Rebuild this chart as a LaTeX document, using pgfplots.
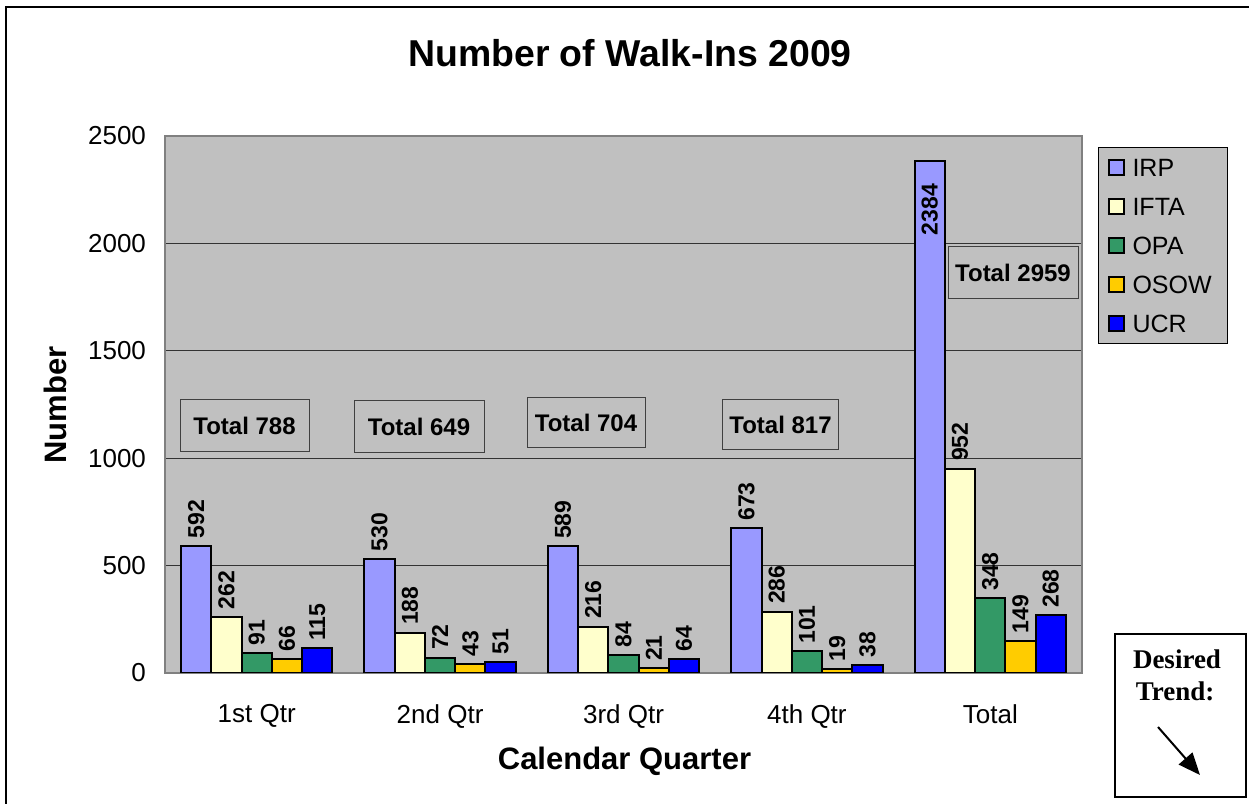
\documentclass[border=0pt]{standalone}
\usepackage{pgfplots}
\pgfplotsset{compat=1.18}
\usepackage{fontspec}
\setmainfont{Liberation Sans}
\newfontfamily\timesfont{Liberation Serif}
\usetikzlibrary{arrows.meta}

\definecolor{plotgray}{HTML}{C0C0C0}
\definecolor{irp}{HTML}{9999FF}
\definecolor{ifta}{HTML}{FFFFCC}
\definecolor{opa}{HTML}{339966}
\definecolor{osow}{HTML}{FFCC00}
\definecolor{ucr}{HTML}{0000FF}

\pgfplotsset{/pgf/number format/1000 sep={}}

\begin{document}
\begin{tikzpicture}[x=0.5pt,y=0.5pt]
\useasboundingbox (0,0) rectangle (1249,804);
\draw[line width=1pt] (6,0) -- (6,797) -- (1249,797);

\begin{axis}[
    at={(82.5pt,65.5pt)}, anchor=south west,
    scale only axis,
    width=458.5pt, height=268.5pt,
    ybar, bar width=0.165,
    xmin=-0.5, xmax=4.5,
    ymin=0, ymax=2500,
    xtick={0,1,2,3,4},
    xticklabels={1st Qtr,2nd Qtr,3rd Qtr,4th Qtr,Total},
    ytick={0,500,1000,1500,2000,2500},
    scaled y ticks=false,
    /pgf/number format/assume math mode=true,
    tick style={draw=none},
    ticklabel style={font=\fontsize{13}{15}\selectfont},
    xticklabel style={yshift=-8pt},
    yticklabel style={xshift=-6pt},
    ymajorgrids,
    major grid style={black!80, line width=0.5pt},
    axis line style={draw=gray, line width=1pt},
    axis background/.style={fill=plotgray},
    nodes near coords,
    every node near coord/.append style={rotate=90, anchor=west,
        font=\bfseries\fontsize{11.5}{13}\selectfont},
    legend style={at={(1.0175,0.9795)}, anchor=north west,
        fill=plotgray, draw=black, line width=0.5pt,
        inner xsep=4.5pt, inner ysep=5.5pt, row sep=10.5pt,
        font=\fontsize{12.5}{14}\selectfont,
        nodes={inner sep=0pt, text height=9pt, text depth=0pt},
        /tikz/every odd column/.append style={column sep=4pt}},
    legend cell align={left},
    legend image code/.code={\draw[#1, line width=1pt] (0pt,-3.75pt) rectangle (7.5pt,3.75pt);},
]
\addplot[fill=irp, draw=black, line width=1pt, bar shift=-0.33]
    coordinates {(0,592)(1,530)(2,589)(3,673)};
\addplot[fill=ifta, draw=black, line width=1pt, bar shift=-0.165]
    coordinates {(0,262)(1,188)(2,216)(3,286)(4,952)};
\addplot[fill=opa, draw=black, line width=1pt, bar shift=0]
    coordinates {(0,91)(1,72)(2,84)(3,101)(4,348)};
\addplot[fill=osow, draw=black, line width=1pt, bar shift=0.165]
    coordinates {(0,66)(1,43)(2,21)(3,19)(4,149)};
\addplot[fill=ucr, draw=black, line width=1pt, bar shift=0.33]
    coordinates {(0,115)(1,51)(2,64)(3,38)(4,268)};
\addplot[fill=irp, draw=black, line width=1pt, bar shift=-0.33, forget plot,
    every node near coord/.append style={anchor=east, inner xsep=11pt}]
    coordinates {(4,2384)};
\legend{IRP,IFTA,OPA,OSOW\hspace*{3.5pt},UCR}
\end{axis}

% total boxes
\tikzset{totalbox/.style={draw=black!75, line width=0.5pt, inner sep=0pt,
    minimum height=26pt, font=\bfseries\fontsize{12}{14}\selectfont}}
\node[totalbox, minimum width=64.5pt] at (244.5,378) {Total 788};
\node[totalbox, minimum width=65pt] at (419,377.5) {Total 649};
\node[totalbox, minimum width=59pt, minimum height=25pt] at (586,381) {Total 704};
\node[totalbox, minimum width=58pt, minimum height=25pt] at (780.5,379) {Total 817};
\node[totalbox, minimum width=65pt] at (1013,531) {Total 2959};

% titles
\node[anchor=base, font=\bfseries\fontsize{18.7}{22}\selectfont] at (630,737) {Number of Walk-Ins 2009};
\node[anchor=base, font=\bfseries\fontsize{15.5}{18}\selectfont] at (624.5,34) {Calendar Quarter};
\node[rotate=90, font=\bfseries\fontsize{15.5}{18}\selectfont] at (55,399) {Number};

% desired trend box
\draw[line width=1pt, fill=white] (1115,7) rectangle (1246,170);
\node[anchor=base, font=\timesfont\bfseries\fontsize{13.5}{16}\selectfont] at (1177,135) {Desired};
\node[anchor=base, font=\timesfont\bfseries\fontsize{13.5}{16}\selectfont] at (1175,103) {Trend:};
\draw[line width=1pt, -{Triangle[length=11pt, width=9pt]}] (1158,77) -- (1200,29);
\end{tikzpicture}
\end{document}
